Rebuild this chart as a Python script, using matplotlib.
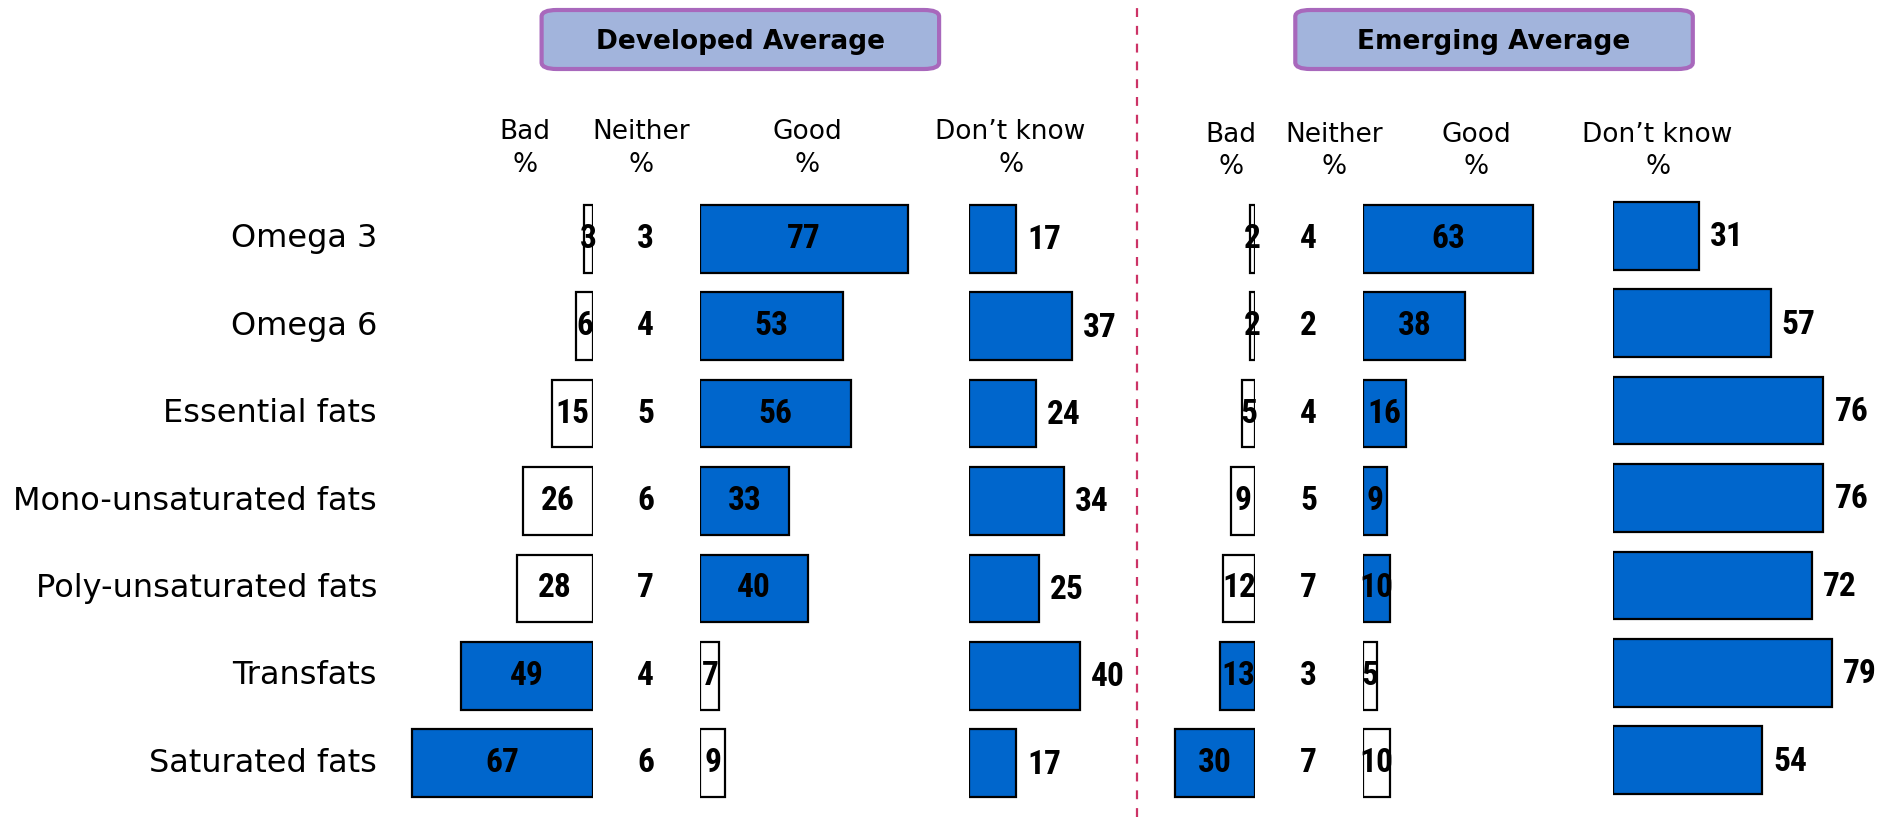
import matplotlib
matplotlib.use("Agg")
import matplotlib.pyplot as plt
from matplotlib import font_manager
from matplotlib.patches import FancyBboxPatch
from matplotlib.lines import Line2D

categories = ["Omega 3", "Omega 6", "Essential fats", "Mono-unsaturated fats",
              "Poly-unsaturated fats", "Transfats", "Saturated fats"]
healthy = [True, True, True, True, True, False, False]

dev_bad = [3, 6, 15, 26, 28, 49, 67]
dev_neither = [3, 4, 5, 6, 7, 4, 6]
dev_good = [77, 53, 56, 33, 40, 7, 9]
dev_dk = [17, 37, 24, 34, 25, 40, 17]

em_bad = [2, 2, 5, 9, 12, 13, 30]
em_neither = [4, 2, 4, 5, 7, 3, 7]
em_good = [63, 38, 16, 9, 10, 5, 10]
em_dk = [31, 57, 76, 76, 72, 79, 54]

col_headers = ["Bad\n%", "Neither\n%", "Good\n%", "Don\u2019t know\n%"]
panel_titles = ["Developed Average", "Emerging Average"]

# pick a condensed bold font for the numbers if one is installed
_fonts = font_manager.fontManager.ttflist
NUM_KW = None
for name, stretch in [("Liberation Sans Narrow", None), ("Arial Narrow", None),
                      ("Roboto Condensed", None), ("Open Sans Condensed", None),
                      ("DejaVu Sans", "condensed"), ("Noto Sans", "condensed"),
                      ("Open Sans", "condensed")]:
    ok = False
    for f in _fonts:
        if f.name == name:
            if stretch is None or str(f.stretch) in ("condensed", "semi-condensed", "extra-condensed"):
                ok = True
                break
    if ok:
        NUM_KW = {"family": [name, "DejaVu Sans"]}
        if stretch:
            NUM_KW["stretch"] = stretch
        break
if NUM_KW is None:
    NUM_KW = {"family": ["Roboto", "DejaVu Sans"]}

W, H = 1900, 817
fig = plt.figure(figsize=(W / 100, H / 100), dpi=100)
BLUE = "#0066CC"
TXTFONT = ["DejaVu Sans"]
NUMSIZE = 24

K = 2.69     # px per percent point (bad / good)
KDK = 2.77   # px per percent point (don't know)
Y_TOP, Y_BOT = 195.0, 807.0
n = len(categories)


def add_axes(left_px, right_px, dy=0.0):
    ax = fig.add_axes([left_px / W, 1 - (Y_BOT - dy) / H,
                       (right_px - left_px) / W, (Y_BOT - Y_TOP) / H])
    ax.set_ylim(n - 0.5, -0.5)
    ax.axis("off")
    return ax


def bar_col(left_px, values, k, width_units, fills, reverse=False, label_inside=True, dy=0.0):
    if reverse:
        ax = add_axes(left_px - width_units * k, left_px, dy)
        ax.set_xlim(width_units, 0)
    else:
        ax = add_axes(left_px, left_px + width_units * k, dy)
        ax.set_xlim(0, width_units)
    ypos = list(range(n))
    colors = [BLUE if f else "white" for f in fills]
    ax.barh(ypos, values, height=0.775, color=colors, edgecolor="black", linewidth=1.6)
    for y, v in zip(ypos, values):
        if label_inside:
            ax.text(v / 2, y, str(v), ha="center", va="center", fontsize=NUMSIZE,
                    fontweight="bold", **NUM_KW)
        else:
            ax.annotate(str(v), (v, y), xytext=(8, -1), textcoords="offset points",
                        ha="left", va="center", fontsize=NUMSIZE, fontweight="bold",
                        **NUM_KW)
    return ax


def neither_col(x_px, values):
    ax = add_axes(x_px - 30, x_px + 30)
    ax.set_xlim(-1, 1)
    for y, v in enumerate(values):
        ax.text(0, y, str(v), ha="center", va="center", fontsize=NUMSIZE,
                fontweight="bold", **NUM_KW)


not_healthy = [not h for h in healthy]

# Developed panel
bar_col(592.5, dev_bad, K, 90, not_healthy, reverse=True)
neither_col(645.8, dev_neither)
bar_col(700.4, dev_good, K, 85, healthy)
bar_col(969.4, dev_dk, KDK, 50, [True] * n, label_inside=False)

# Emerging panel
bar_col(1255.3, em_bad, K, 40, not_healthy, reverse=True)
neither_col(1308.6, em_neither)
bar_col(1363.2, em_good, K, 70, healthy)
bar_col(1612.8, em_dk, KDK, 95, [True] * n, label_inside=False, dy=3)

# category labels
ax_lab = add_axes(0, 377)
ax_lab.set_xlim(0, 1)
for y, c in enumerate(categories):
    ax_lab.text(1, y, c, ha="right", va="center", fontsize=23, family=TXTFONT)


def fx(px):
    return px / W


def fy(py):
    return 1 - py / H


# column headers
dev_hdr_x = [524.7, 641.0, 807.0, 1010.6]
em_hdr_x = [1231.0, 1334.0, 1476.0, 1657.6]
for xs, y1 in ((dev_hdr_x, 132.0), (em_hdr_x, 134.5)):
    for x, h in zip(xs, col_headers):
        top, bottom = h.split("\n")
        fig.text(fx(x), fy(y1), top, ha="center", va="center", fontsize=19, family=TXTFONT)
        fig.text(fx(x), fy(y1 + 33), bottom, ha="center", va="center", fontsize=19, family=TXTFONT)

# panel title boxes
for (x0, x1), title in zip(((541.6, 939.1), (1295.3, 1692.8)), panel_titles):
    box = FancyBboxPatch((fx(x0), fy(69)), fx(x1) - fx(x0), fy(10) - fy(69),
                         boxstyle="round,pad=0,rounding_size=0.008",
                         transform=fig.transFigure, facecolor="#A2B4DC",
                         edgecolor="#A868BC", linewidth=3)
    fig.patches.append(box)
    fig.text(fx((x0 + x1) / 2), fy(42), title, ha="center", va="center",
             fontsize=19, fontweight="bold", family=TXTFONT)

# divider
fig.lines.append(Line2D([fx(1136.6), fx(1136.6)], [0, 1], transform=fig.transFigure,
                        color="#CC3366", linestyle=(0, (4, 4)), linewidth=1.6))

fig.savefig("out.png", dpi=100)
